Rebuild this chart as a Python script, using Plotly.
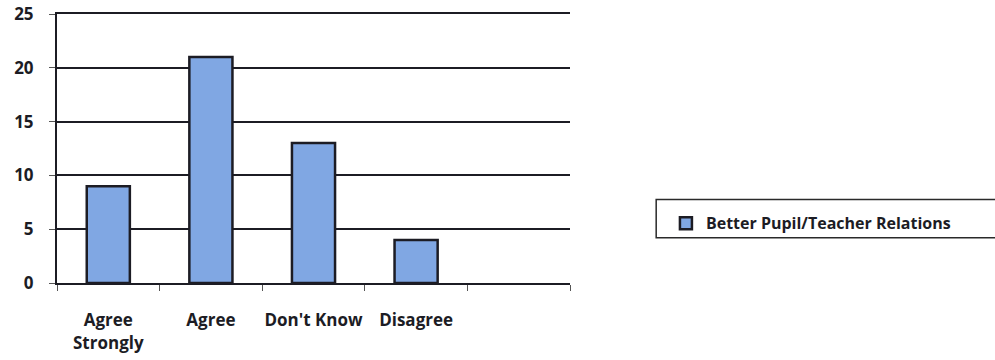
import plotly.graph_objects as go

# Survey responses for "Better Pupil/Teacher Relations"
categories = ["Agree<br>Strongly", "Agree", "Don't Know", "Disagree", " "]
counts = [9, 21, 13, 4, None]
series_name = "Better Pupil/Teacher Relations"
y_ticks = [0, 5, 10, 15, 20, 25]

FONT = "Open Sans"
INK = "#1c1c24"

fig = go.Figure()
fig.add_trace(go.Bar(
    x=categories,
    y=counts,
    name=series_name,
    width=0.42,
    marker=dict(color="#80a7e3", line=dict(color=INK, width=2.5)),
    showlegend=True,
))

fig.update_layout(
    width=995,
    height=360,
    margin=dict(l=57, r=425, t=14, b=77, autoexpand=False),
    paper_bgcolor="white",
    plot_bgcolor="white",
    font=dict(family=FONT, color=INK, size=17),
    showlegend=True,
    legend=dict(
        x=1.187, y=0.285, xanchor="left", yanchor="top",
        bgcolor="rgba(0,0,0,0)",
        borderwidth=0,
        font=dict(family=FONT, size=16, color=INK, weight="bold"),
        itemwidth=30,
    ),
    # legend frame running off the right edge
    shapes=[dict(
        type="rect", xref="paper", yref="paper",
        x0=1.168, x1=1.85, y0=0.168, y1=0.31,
        line=dict(color="#2a2a2a", width=1.5),
        fillcolor="rgba(0,0,0,0)", layer="below",
    )],
)

fig.update_xaxes(
    type="category",
    range=[-0.5, 4.5],
    automargin=False,
    tickangle=0,
    showline=True, linecolor=INK, linewidth=2, mirror=True,
    ticks="outside", tickson="boundaries", ticklen=6, tickcolor="#555",
    tickfont=dict(family=FONT, size=17, color=INK, weight="bold"),
    ticklabelstandoff=21,
    showgrid=False,
)

fig.update_yaxes(
    range=[0, 25],
    tickvals=y_ticks,
    automargin=False,
    showline=True, linecolor=INK, linewidth=2,
    ticks="outside", ticklen=6, tickcolor="#555",
    tickfont=dict(family=FONT, size=17, color=INK, weight="bold"),
    ticklabelstandoff=12,
    showgrid=True, gridcolor=INK, gridwidth=2,
    zeroline=False,
)

fig.write_html("out.html")
